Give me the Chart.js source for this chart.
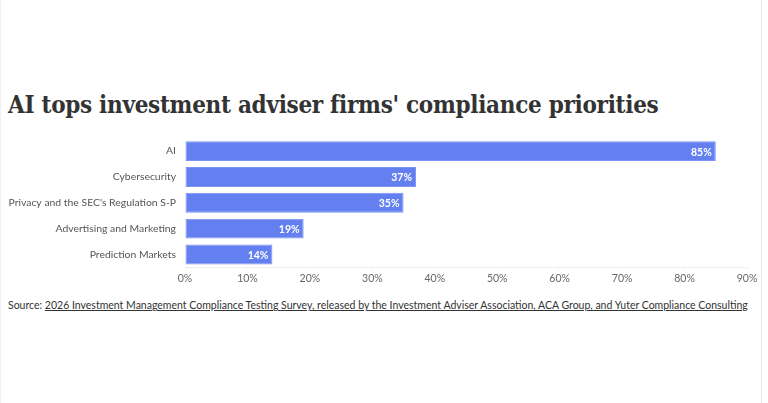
<!DOCTYPE html>
<html>
<head>
<meta charset="utf-8">
<script src="https://cdn.jsdelivr.net/npm/chart.js@4"></script>
<style>
  html, body { margin: 0; padding: 0; background: #fff; }
  .frame {
    position: relative;
    width: 762px;
    height: 403px;
    border-left: 1px solid #f0f0f0;
    border-right: 1px solid #e6e6e6;
    box-sizing: border-box;
  }
  h1 {
    position: absolute;
    left: 7px;
    top: 90px;
    margin: 0;
    font-family: "DejaVu Serif", serif;
    font-stretch: condensed;
    font-weight: bold;
    font-size: 24px;
    letter-spacing: -0.3px;
    color: #333;
    white-space: nowrap;
  }
  .chart-box {
    position: absolute;
    left: 0;
    top: 131px;
    width: 760px;
    height: 157px;
  }
  .source {
    position: absolute;
    left: 7px;
    top: 299px;
    font-family: Lato, sans-serif;
    font-size: 10.5px;
    color: #333;
    white-space: nowrap;
  }
  .source a { color: #333; text-decoration: underline; }
</style>
</head>
<body>
<div class="frame">
  <h1>AI tops investment adviser firms' compliance priorities</h1>
  <div class="chart-box"><canvas id="priorityChart"></canvas></div>
  <div class="source">Source: <a>2026 Investment Management Compliance Testing Survey, released by the Investment Adviser Association, ACA Group, and Yuter Compliance Consulting</a></div>
</div>
<script>
// categories and values
const categories = ['AI', 'Cybersecurity', "Privacy and the SEC's Regulation S-P", 'Advertising and Marketing', 'Prediction Markets'];
const shares = [85, 37, 35, 19, 14];
const tickValues = [0, 10, 20, 30, 40, 50, 60, 70, 80, 90];

// draws "NN%" inside the end of each bar
const barLabels = {
    id: 'barLabels',
    afterDatasetsDraw(chart) {
        const { ctx } = chart;
        const meta = chart.getDatasetMeta(0);
        ctx.save();
        ctx.font = 'bold 10.5px Lato, sans-serif';
        ctx.fillStyle = '#fff';
        ctx.textAlign = 'right';
        ctx.textBaseline = 'middle';
        meta.data.forEach((bar, i) => {
            ctx.fillText(shares[i] + '%', bar.x - 4, bar.y + 1);
        });
        ctx.restore();
    }
};

document.addEventListener('DOMContentLoaded', () => {
    const ctx = document.getElementById('priorityChart');
    new Chart(ctx, {
        type: 'bar',
        data: {
            labels: categories,
            datasets: [{
                data: shares,
                backgroundColor: '#6480f0',
                borderColor: '#7c93f2',
                borderWidth: 1,
                borderSkipped: false,
                categoryPercentage: 1,
                barPercentage: 0.77
            }]
        },
        options: {
            indexAxis: 'y',
            responsive: true,
            maintainAspectRatio: false,
            animation: false,
            layout: { padding: { left: 0, right: 14, top: 0, bottom: 0 } },
            plugins: {
                legend: { display: false },
                tooltip: { enabled: false }
            },
            scales: {
                x: {
                    min: 0,
                    max: 90,
                    afterBuildTicks: axis => { axis.ticks = tickValues.map(v => ({ value: v })); },
                    grid: { display: true, drawOnChartArea: false, tickLength: 2, color: '#eee' },
                    border: { color: '#eee' },
                    ticks: {
                        color: '#666',
                        font: { family: 'Lato', size: 10.5 },
                        padding: 3,
                        callback: v => v + '%'
                    }
                },
                y: {
                    grid: { display: false },
                    border: { display: false },
                    afterFit: axis => { axis.width = 184; },
                    ticks: {
                        color: '#555',
                        font: { family: 'Lato', size: 10.4 },
                        padding: 1
                    }
                }
            }
        },
        plugins: [barLabels]
    });
});
</script>
</body>
</html>
